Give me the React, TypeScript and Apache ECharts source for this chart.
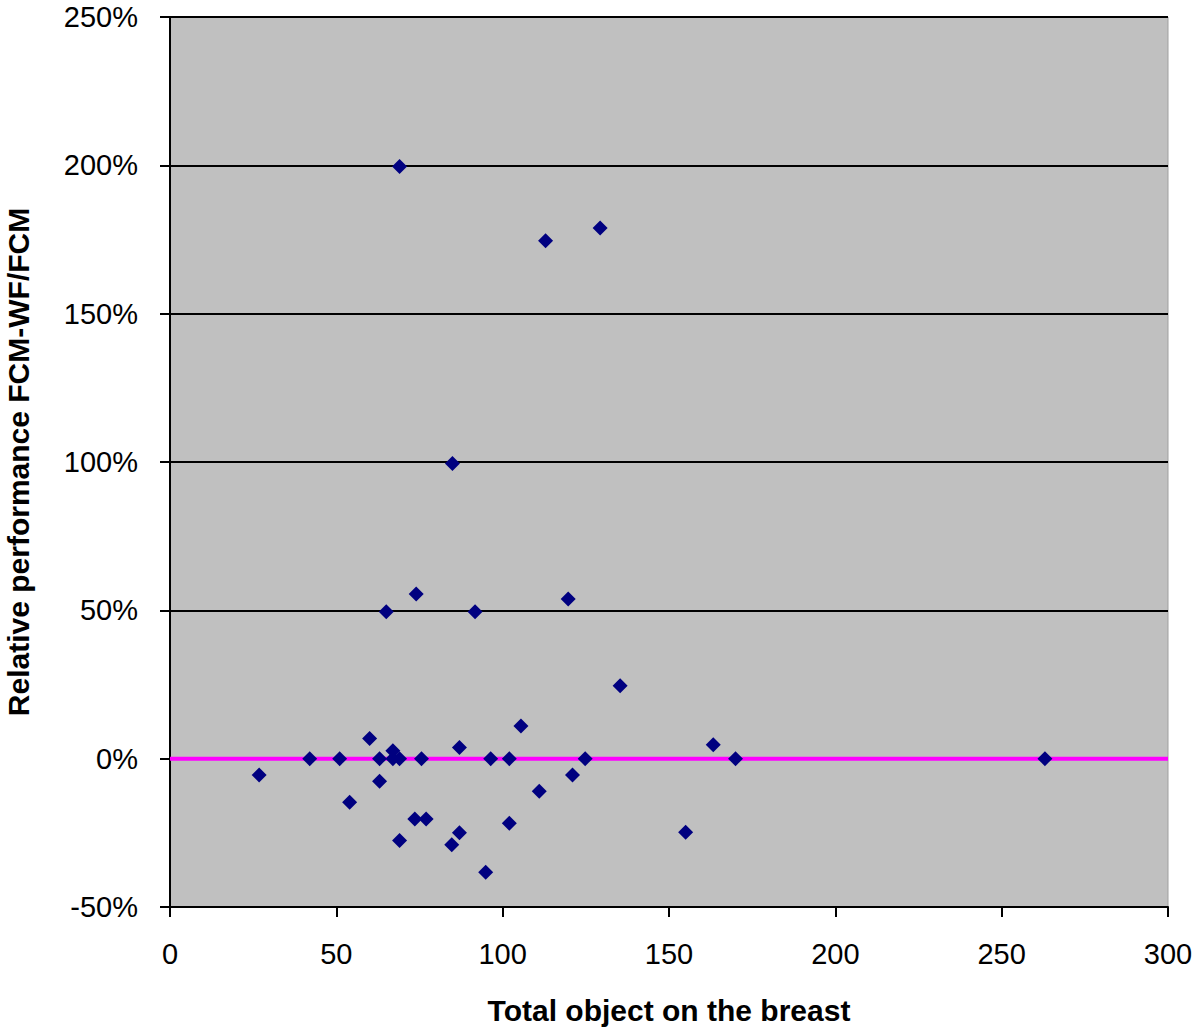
import React, { useEffect, useRef } from "react";
import * as echarts from "echarts";

const totalObjects = [26.8, 42, 51, 54, 60, 63, 63, 65, 67, 67, 69, 69, 69, 73.6, 74, 75.6, 77, 84.7, 84.9, 87, 87, 91.7, 94.9, 96.4, 102, 102, 105.5, 111, 112.9, 119.7, 121, 124.8, 129.3, 135.3, 155, 163.3, 170, 263];
const relativePerf = [-5.5, 0, 0, -14.7, 6.8, 0, -7.6, 49.5, 2.7, 0, 0, -27.6, 199.6, -20.3, 55.5, 0, -20.3, -29, 99.5, 3.8, -25, 49.5, -38.3, 0, 0, -21.8, 11, -11, 174.6, 53.8, -5.5, 0, 178.9, 24.6, -24.8, 4.7, 0, 0];

const xRange = [0, 300];
const yRange = [-50, 250];
const referenceLevel = 0;

const xTitle = "Total object on the breast";
const yTitle = "Relative performance FCM-WF/FCM";

const FONT = "'Liberation Sans', Arial, sans-serif";

export default function App() {
  const ref = useRef<HTMLDivElement>(null);
  useEffect(() => {
    if (!ref.current) return;
    const chart = echarts.init(ref.current, null, { renderer: "svg" });
    const points = totalObjects.map((x, i) => [x, relativePerf[i]]);
    chart.setOption({
      animation: false,
      backgroundColor: "#ffffff",
      grid: {
        left: 170, top: 17, right: 32, bottom: 128,
        outerBoundsMode: "none", containLabel: false,
        show: true, backgroundColor: "#C0C0C0", borderColor: "#A0A0A0", borderWidth: 1,
      },
      xAxis: {
        type: "value",
        min: xRange[0],
        max: xRange[1],
        interval: 50,
        name: xTitle,
        nameLocation: "middle",
        nameGap: 88,
        nameTextStyle: { fontFamily: FONT, fontWeight: "bold", fontSize: 30, color: "#000" },
        axisLine: { show: true, onZero: false, lineStyle: { color: "#000", width: 2 } },
        axisTick: { show: true, length: 10, lineStyle: { color: "#000", width: 2 } },
        axisLabel: { fontFamily: FONT, fontSize: 29, color: "#000", margin: 32 },
        splitLine: { show: false },
      },
      yAxis: {
        type: "value",
        min: yRange[0],
        max: yRange[1],
        interval: 50,
        name: yTitle,
        nameLocation: "middle",
        nameGap: 137,
        nameRotate: 90,
        nameTextStyle: { fontFamily: FONT, fontWeight: "bold", fontSize: 30, color: "#000" },
        axisLine: { show: true, onZero: false, lineStyle: { color: "#000", width: 2 } },
        axisTick: { show: true, length: 10, lineStyle: { color: "#000", width: 2 } },
        axisLabel: { fontFamily: FONT, fontSize: 29, color: "#000", margin: 32, formatter: "{value}%" },
        splitLine: { show: true, lineStyle: { color: "#000", width: 2 } },
      },
      series: [
        {
          type: "line",
          data: [[xRange[0], referenceLevel], [xRange[1], referenceLevel]],
          symbol: "none",
          lineStyle: { color: "#FF00FF", width: 4 },
          z: 1,
          silent: true,
        },
        {
          type: "scatter",
          data: points,
          symbol: "diamond",
          symbolSize: 15,
          itemStyle: { color: "#000080", opacity: 1 },
          z: 2,
        },
      ],
    });
    return () => chart.dispose();
  }, []);
  return <div ref={ref} style={{ position: "absolute", left: 0, top: 0, width: 1200, height: 1035 }} />;
}
